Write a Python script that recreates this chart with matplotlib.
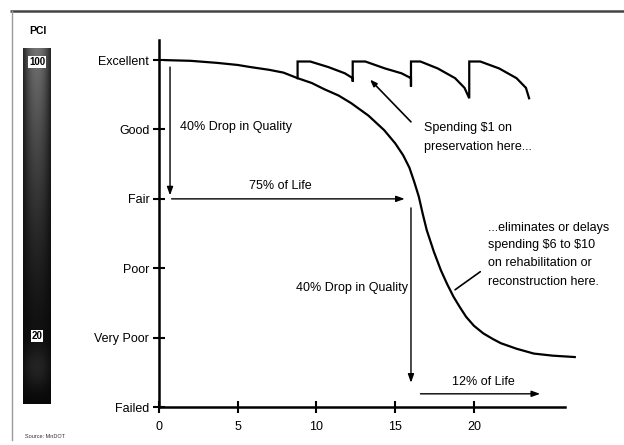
import numpy as np
import matplotlib
matplotlib.use("Agg")
import matplotlib.pyplot as plt

plt.rcParams['font.family'] = ['Liberation Sans', 'DejaVu Sans']

# ---- data ----
condition_levels = ["Failed", "Very Poor", "Poor", "Fair", "Good", "Excellent"]
condition_values = [0, 1, 2, 3, 4, 5]
year_ticks = [0, 5, 10, 15, 20]

# deterioration curve without preservation (years, condition)
curve_years = [0.4, 2.0, 3.7, 5.0, 5.8, 7.0, 7.9, 8.8, 9.7, 10.5, 11.4, 12.2, 13.3, 14.3,
               15.0, 15.5, 15.9, 16.2, 16.5, 16.75, 17.0, 17.45, 17.9, 18.3, 18.7, 19.1,
               19.5, 20.0, 20.6, 21.2, 21.7, 22.7, 23.8, 25.0, 26.4]
curve_cond = [5.0, 4.99, 4.96, 4.93, 4.90, 4.86, 4.82, 4.74, 4.67, 4.58, 4.49, 4.38, 4.20,
              3.99, 3.80, 3.63, 3.45, 3.25, 3.03, 2.78, 2.55, 2.24, 1.97, 1.77, 1.59, 1.44,
              1.30, 1.17, 1.06, 0.98, 0.92, 0.84, 0.77, 0.74, 0.72]

# sawtooth curve with preservation treatments
pres_years = [8.8, 8.8, 9.6, 10.75, 11.8, 12.3, 12.3, 12.3, 13.1, 14.35, 15.4, 16.0, 16.0,
              16.0, 16.6, 17.7, 18.8, 19.4, 19.7, 19.7, 20.4, 21.6, 22.7, 23.3, 23.5]
pres_cond = [4.74, 4.98, 4.98, 4.90, 4.81, 4.74, 4.69, 4.98, 4.98, 4.88, 4.81, 4.74, 4.62,
             4.98, 4.98, 4.88, 4.74, 4.60, 4.45, 4.98, 4.98, 4.88, 4.74, 4.60, 4.45]

FW, FH = 624, 445
fig = plt.figure(figsize=(FW / 100, FH / 100), dpi=100)

# background pixel-space axes for decorations
bg = fig.add_axes([0, 0, 1, 1])
bg.set_xlim(0, FW)
bg.set_ylim(FH, 0)
bg.axis('off')

# frame lines
bg.plot([10, FW], [11, 11], color='#444444', lw=1.8, solid_capstyle='butt')
bg.plot([12, 12], [11, 440], color='#9a9a9a', lw=1.0)

# PCI bar
ny, nx = 200, 30
yy = np.linspace(0, 1, ny)[:, None]
xx = np.linspace(-1, 1, nx)[None, :]
vert = 0.42 * (1 - yy) ** 1.6 + 0.10 * np.exp(-((yy - 0.9) / 0.06) ** 2)
horiz = 1 - 0.7 * xx ** 2
img = np.clip(vert * horiz + 0.03, 0, 1)
bg.imshow(img, cmap='gray', vmin=0, vmax=1, extent=[23, 51, 404, 48], aspect='auto', zorder=2)
bg.text(38, 31, "PCI", ha='center', va='center', fontsize=7.5, fontweight='bold')
bg.text(37, 62, "100", ha='center', va='center', fontsize=7, fontweight='bold', color='black',
        bbox=dict(boxstyle='square,pad=0.1', fc='white', ec='none'), zorder=3)
bg.text(37, 336, "20", ha='center', va='center', fontsize=7, fontweight='bold', color='black',
        bbox=dict(boxstyle='square,pad=0.1', fc='white', ec='none'), zorder=3)
bg.text(25, 437, "Source: MnDOT", ha='left', va='center', fontsize=4, color='#333333')

# ---- main axes ----
L, R, B, T = 159, 565, 407, 40
ax = fig.add_axes([L / FW, 1 - B / FH, (R - L) / FW, (B - T) / FH])
ax.set_xlim(0, 25.78)
ax.set_ylim(0, 5.29)
for s in ['top', 'right']:
    ax.spines[s].set_visible(False)
for s in ['left', 'bottom']:
    ax.spines[s].set_linewidth(1.8)
ax.set_yticks(condition_values)
ax.set_yticklabels(condition_levels)
ax.set_xticks(year_ticks)
ax.tick_params(axis='both', direction='inout', length=8, width=1.5, labelsize=9, pad=3)
ax.tick_params(axis='x', pad=6)
ax.patch.set_alpha(0)

ax.plot(curve_years, curve_cond, color='black', lw=1.6, clip_on=False, solid_joinstyle='round')
ax.plot(pres_years, pres_cond, color='black', lw=1.6, clip_on=False, solid_joinstyle='miter')

arrow = dict(arrowstyle='-|>,head_length=0.5,head_width=0.18', color='black', lw=1.0,
             shrinkA=0, shrinkB=0)
# first quality drop
ax.annotate("", xy=(0.7, 3.05), xytext=(0.7, 4.9), arrowprops=arrow)
ax.text(1.33, 4.04, "40% Drop in Quality", ha='left', va='center', fontsize=9)
# 75% of life
ax.annotate("", xy=(15.6, 3.0), xytext=(0.8, 3.0), arrowprops=arrow)
ax.text(7.7, 3.19, "75% of Life", ha='center', va='center', fontsize=9)
# second quality drop
ax.annotate("", xy=(16.0, 0.35), xytext=(16.0, 2.87), arrowprops=arrow)
ax.text(15.8, 1.71, "40% Drop in Quality", ha='right', va='center', fontsize=9)
# 12% of life
ax.annotate("", xy=(24.2, 0.19), xytext=(16.6, 0.19), arrowprops=arrow)
ax.text(20.6, 0.36, "12% of Life", ha='center', va='center', fontsize=9)

# preservation annotation
ax.annotate("", xy=(13.4, 4.72), xytext=(16.0, 4.11),
            arrowprops=dict(arrowstyle='-|>,head_length=0.4,head_width=0.15', color='black',
                            lw=1.2, shrinkA=0, shrinkB=0))
ax.text(16.8, 4.02, "Spending \\$1 on", ha='left', va='center', fontsize=9)
ax.text(16.8, 3.75, "preservation here...", ha='left', va='center', fontsize=9)

# rehabilitation annotation
ax.annotate("", xy=(18.8, 1.69), xytext=(20.4, 1.95),
            arrowprops=dict(arrowstyle='-', color='black', lw=1.2, shrinkA=0, shrinkB=0))
rehab_lines = ["...eliminates or delays", "spending \\$6 to \\$10",
               "on rehabilitation or", "reconstruction here."]
rehab_y = [2.58, 2.33, 2.07, 1.80]
for txt, yv in zip(rehab_lines, rehab_y):
    ax.text(20.9, yv, txt, ha='left', va='center', fontsize=9, clip_on=False)

fig.savefig("out.png", dpi=100)
